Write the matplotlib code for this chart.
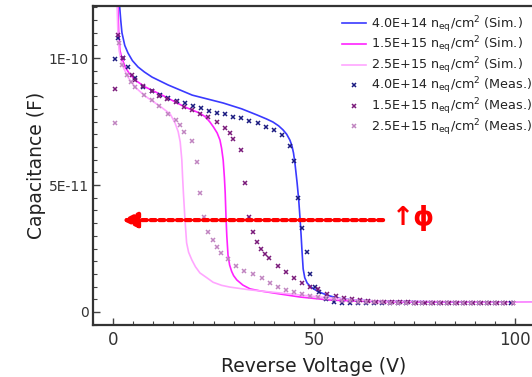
import matplotlib
matplotlib.use("Agg")
import matplotlib.pyplot as plt
from matplotlib.ticker import MultipleLocator, FixedLocator, FixedFormatter

# ---------------- data (capacitance in units of 1e-10 F) ----------------
labels_sim = ["4.0E+14 n$_{\\rm eq}$/cm$^2$ (Sim.)",
              "1.5E+15 n$_{\\rm eq}$/cm$^2$ (Sim.)",
              "2.5E+15 n$_{\\rm eq}$/cm$^2$ (Sim.)"]
labels_meas = ["4.0E+14 n$_{\\rm eq}$/cm$^2$ (Meas.)",
               "1.5E+15 n$_{\\rm eq}$/cm$^2$ (Meas.)",
               "2.5E+15 n$_{\\rm eq}$/cm$^2$ (Meas.)"]

sim_v_a = [1.2, 1.5, 1.9, 2.2, 2.9, 3.7, 4.8, 6.2, 7.8, 9.7, 13.7, 19.7, 27.4, 32.0, 35.8,
           38.2, 39.8, 41.2, 42.3, 43.2, 44.0, 44.5, 44.9, 45.3, 45.8, 46.2, 46.5, 46.8,
           47.0, 47.3, 47.7, 48.3, 49.0, 49.8, 51.0, 52.2, 54.0, 56.5, 60.0, 66.0, 80.0,
           105.0]
sim_c_a = [1.30, 1.23, 1.15, 1.10, 1.05, 1.02, 0.99, 0.965, 0.945, 0.925, 0.894, 0.854,
           0.823, 0.800, 0.776, 0.760, 0.748, 0.733, 0.717, 0.700, 0.677, 0.655, 0.626,
           0.580, 0.508, 0.440, 0.374, 0.300, 0.244, 0.170, 0.135, 0.114, 0.102, 0.092,
           0.081, 0.073, 0.063, 0.053, 0.047, 0.043, 0.040, 0.039]

sim_v_b = [1.0, 1.2, 1.4, 1.7, 2.2, 3.0, 4.0, 5.5, 8.0, 12.2, 17.9, 21.6, 23.0, 24.1, 25.0,
           25.9, 26.6, 27.0, 27.4, 27.7, 27.9, 28.1, 28.3, 28.6, 29.0, 29.5, 30.0, 30.8,
           32.3, 34.1, 36.6, 41.5, 46.5, 54.0, 62.0, 71.0, 105.0]
sim_c_b = [1.30, 1.20, 1.10, 1.03, 1.00, 0.965, 0.94, 0.913, 0.886, 0.854, 0.807, 0.783,
           0.768, 0.748, 0.728, 0.705, 0.677, 0.645, 0.598, 0.530, 0.469, 0.374, 0.300,
           0.224, 0.185, 0.160, 0.143, 0.126, 0.106, 0.091, 0.083, 0.071, 0.059, 0.047,
           0.042, 0.040, 0.039]

sim_v_c = [0.85, 1.0, 1.2, 1.5, 2.0, 2.5, 3.7, 5.5, 8.0, 11.7, 14.2, 15.4, 16.2, 16.7,
           17.1, 17.3, 17.5, 17.9, 18.3, 18.8, 19.6, 20.5, 21.6, 23.4, 24.9, 27.0, 29.1,
           34.1, 41.5, 51.5, 60.0, 66.0, 105.0]
sim_c_c = [1.30, 1.20, 1.10, 1.03, 0.99, 0.965, 0.925, 0.885, 0.850, 0.810, 0.780,
           0.745, 0.710, 0.670, 0.600, 0.530, 0.469, 0.362, 0.272, 0.235, 0.205, 0.178,
           0.154, 0.134, 0.117, 0.105, 0.098, 0.087, 0.075, 0.059, 0.047, 0.043, 0.039]

meas_v_a = [0.5, 1.3, 2.5, 3.7, 5.5, 7.5, 9.7, 11.7, 13.7, 15.9, 17.9, 19.9, 21.9, 23.9,
            25.9, 27.9, 29.9, 31.8, 33.8, 36.0, 38.0, 40.0, 42.0, 44.0, 45.0, 46.0, 47.0,
            48.3, 49.0, 50.2, 51.2, 53.0, 55.0, 57.0, 59.0, 61.0, 63.0, 65.0, 67.0, 69.0,
            71.0, 73.0, 75.0, 77.0, 79.0, 81.0, 83.0, 85.0, 87.0, 89.0, 91.0, 93.0, 95.0,
            97.0, 99.0]
meas_c_a = [0.996, 1.08, 1.00, 0.965, 0.920, 0.885, 0.870, 0.854, 0.843, 0.831, 0.823,
            0.813, 0.803, 0.793, 0.785, 0.778, 0.768, 0.762, 0.752, 0.744, 0.728, 0.717,
            0.697, 0.654, 0.594, 0.449, 0.331, 0.236, 0.150, 0.098, 0.079, 0.052, 0.040,
            0.037, 0.036, 0.036, 0.036, 0.036, 0.036, 0.036, 0.036, 0.036, 0.036, 0.036,
            0.036, 0.036, 0.036, 0.036, 0.036, 0.036, 0.036, 0.036, 0.036, 0.036, 0.036]

meas_v_b = [0.5, 1.3, 2.5, 4.7, 5.5, 7.5, 9.7, 11.4, 13.4, 15.7, 17.7, 19.7, 21.6, 23.6,
            25.9, 27.9, 29.1, 29.9, 31.8, 32.8, 33.8, 34.8, 35.8, 36.9, 37.8, 38.8, 41.0,
            43.0, 45.0, 47.0, 49.0, 51.0, 53.3, 55.5, 57.5, 59.5, 61.5, 63.5, 65.5, 67.5,
            69.5, 71.5, 73.5, 75.5, 77.5, 79.5, 81.5, 83.5, 85.5, 87.5, 89.5, 91.5, 93.5,
            95.5, 97.5, 99.5]
meas_c_b = [0.878, 1.09, 1.00, 0.933, 0.915, 0.890, 0.872, 0.852, 0.838, 0.825, 0.807,
            0.795, 0.781, 0.766, 0.748, 0.724, 0.705, 0.683, 0.638, 0.508, 0.374, 0.315,
            0.276, 0.248, 0.228, 0.213, 0.181, 0.157, 0.134, 0.114, 0.098, 0.090, 0.072,
            0.062, 0.055, 0.050, 0.046, 0.043, 0.041, 0.040, 0.039, 0.038, 0.038, 0.037,
            0.037, 0.037, 0.037, 0.037, 0.037, 0.037, 0.037, 0.037, 0.037, 0.037, 0.037,
            0.037]

meas_v_c = [0.5, 1.5, 2.2, 3.5, 4.5, 5.5, 7.7, 9.7, 11.4, 13.7, 15.7, 16.7, 17.7, 19.7,
            20.9, 21.6, 22.6, 23.6, 24.9, 25.9, 26.9, 28.6, 30.6, 32.6, 34.8, 37.1, 39.1,
            41.0, 43.0, 45.0, 47.0, 49.0, 51.0, 53.0, 55.0, 57.0, 59.0, 61.0, 63.0, 65.0,
            67.0, 69.0, 71.0, 73.0, 75.0, 77.0, 79.0, 81.0, 83.0, 85.0, 87.0, 89.0, 91.0,
            93.0, 95.0, 97.0, 99.5]
meas_c_c = [0.744, 1.06, 0.972, 0.933, 0.906, 0.886, 0.854, 0.835, 0.811, 0.780, 0.756,
            0.736, 0.709, 0.673, 0.591, 0.469, 0.374, 0.315, 0.283, 0.256, 0.232, 0.209,
            0.181, 0.161, 0.150, 0.134, 0.114, 0.098, 0.087, 0.079, 0.071, 0.063, 0.059,
            0.055, 0.050, 0.045, 0.042, 0.040, 0.039, 0.038, 0.038, 0.037, 0.037, 0.037,
            0.037, 0.037, 0.037, 0.037, 0.037, 0.037, 0.037, 0.037, 0.037, 0.037, 0.037,
            0.037, 0.037]

sim_colors = ["#3a3aff", "#ff22ff", "#ffa6ff"]
meas_colors = ["#1a1a80", "#7a1a7a", "#c084c0"]

ytick_vals = [0.0, 0.5, 1.0]
ytick_labels = ["0", "5E-11", "1E-10"]

# ---------------- figure ----------------
fig = plt.figure(figsize=(5.32, 3.77), dpi=100)
ax = fig.add_axes([93 / 532, 1 - 325 / 377, (535 - 93) / 532, (325 - 6) / 377])

sim_sets = [(sim_v_a, sim_c_a), (sim_v_b, sim_c_b), (sim_v_c, sim_c_c)]
meas_sets = [(meas_v_a, meas_c_a), (meas_v_b, meas_c_b), (meas_v_c, meas_c_c)]

for (v, c), col, lab in zip(sim_sets, sim_colors, labels_sim):
    ax.plot(v, c, color=col, lw=1.2, label=lab, zorder=2, solid_joinstyle="round")
for (v, c), col, lab in zip(meas_sets, meas_colors, labels_meas):
    ax.plot(v, c, ls="none", marker="x", ms=3.5, mew=1.1, color=col, label=lab, zorder=3)

ax.set_xlim(-5, 105)
ax.set_ylim(-0.0512, 1.205)

ax.xaxis.set_major_locator(FixedLocator([0, 50, 100]))
ax.xaxis.set_minor_locator(MultipleLocator(5))
ax.yaxis.set_major_locator(FixedLocator(ytick_vals))
ax.yaxis.set_major_formatter(FixedFormatter(ytick_labels))
ax.yaxis.set_minor_locator(MultipleLocator(0.05))

ax.tick_params(which="both", direction="in", colors="#444444", labelcolor="#333333")
ax.tick_params(which="major", length=5, width=1.0)
ax.tick_params(which="minor", length=3, width=0.8)
ax.tick_params(axis="x", labelsize=12, pad=4)
ax.tick_params(axis="y", labelsize=10, pad=3)

for s in ax.spines.values():
    s.set_linewidth(1.6)
    s.set_color("#333333")

ax.set_xlabel("Reverse Voltage (V)", fontsize=13.5, color="#222222", labelpad=6)
ax.set_ylabel("Capacitance (F)", fontsize=13.5, color="#222222", labelpad=2)

# red arrow annotation
ax.annotate("", xy=(2.2, 0.362), xytext=(67.2, 0.362),
            arrowprops=dict(arrowstyle="-|>,head_length=0.9,head_width=0.45",
                            color="red", lw=3.0, linestyle=(0, (1.2, 0.9)),
                            shrinkA=0, shrinkB=0))
ax.text(69.5, 0.37, "\u2191\u03d5", color="red", fontsize=19, fontweight="bold",
        ha="left", va="center")

leg = ax.legend(loc="upper left", frameon=False, fontsize=9.2,
                handlelength=1.9, handletextpad=0.4, labelspacing=0.0,
                borderaxespad=0, borderpad=0, markerscale=0.9)
leg.set_bbox_to_anchor((342 / 532, 1 - 14 / 377), transform=fig.transFigure)
for t in leg.get_texts():
    t.set_color("#222222")

fig.savefig("out.png", dpi=100)
